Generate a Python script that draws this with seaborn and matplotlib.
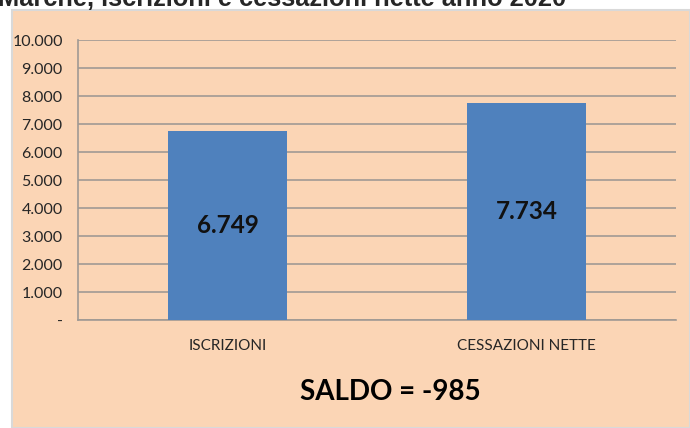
import matplotlib
matplotlib.use("Agg")
import matplotlib.pyplot as plt
import matplotlib.patches as mpatches
from matplotlib.ticker import FuncFormatter, MultipleLocator
import seaborn as sns
import pandas as pd

# data
categories = ["ISCRIZIONI", "CESSAZIONI NETTE"]
values = [6749, 7734]
saldo = -985

df = pd.DataFrame({"cat": categories, "val": values})

sns.set_style("white")
plt.rcParams['font.family'] = ['Lato', 'DejaVu Sans']

W, H = 690, 428
fig = plt.figure(figsize=(W / 100, H / 100), dpi=100)
fig.patch.set_facecolor("white")

# peach chart panel
panel = mpatches.Rectangle((12 / W, 0), 1 - 12 / W, 1 - 10 / H, transform=fig.transFigure,
                           facecolor="#FBD5B5", edgecolor="#D9D9D9", linewidth=1.5, zorder=-5)
fig.patches.append(panel)

ax = fig.add_axes([78 / W, 1 - 320 / H, (676 - 78) / W, (320 - 40) / H])
ax.set_facecolor("none")
ax.set_zorder(1)

sns.barplot(data=df, x="cat", y="val", color="#4F81BD", width=0.4, saturation=1,
            edgecolor="none", linewidth=0, ax=ax, zorder=3)

ax.set_ylim(0, 10000)
ax.yaxis.set_major_locator(MultipleLocator(1000))
ax.yaxis.set_major_formatter(FuncFormatter(lambda v, p: "-" if v == 0 else f"{int(v):,}".replace(",", ".")))
ax.grid(axis="y", color="#A09A94", linewidth=1.2, zorder=0)
ax.set_axisbelow(True)

for s in ["top", "right"]:
    ax.spines[s].set_visible(False)
ax.spines["left"].set_color("#A09A94")
ax.spines["bottom"].set_color("#A09A94")
ax.spines["left"].set_linewidth(1.2)
ax.spines["bottom"].set_linewidth(1.2)

ax.set_xlim(-0.5, 1.5)
ax.set_xticks([-0.5, 0.5, 1.5], minor=False)
ax.set_xticklabels(["", "", ""])
ax.set_xticks([0, 1], minor=True)
ax.set_xticklabels(categories, minor=True)
ax.tick_params(axis="x", which="major", length=6, color="#A09A94", width=1.2, direction="out")
ax.tick_params(axis="x", which="minor", length=0, pad=14, labelsize=11)
ax.tick_params(axis="y", length=7, color="#A09A94", width=1.2, labelsize=11.5, pad=4)
ax.set_xlabel("")
ax.set_ylabel("")

# value labels in the middle of bars
for i, v in enumerate(values):
    ax.text(i, v / 2, f"{v:,}".replace(",", "."), ha="center", va="center",
            fontsize=17.5, fontweight="bold", color="#111111", zorder=5)

fig.text(390 / W, 1 - 392 / H, f"SALDO = {saldo}", ha="center", va="center",
         fontsize=20, fontweight="bold", color="black")

fig.text(-2 / W, 1 - 6 / H, "Marche, iscrizioni e cessazioni nette anno 2020", ha="left",
         va="baseline", fontsize=18.3, fontweight="bold", family="Liberation Sans")

fig.savefig("out.png", dpi=100)
